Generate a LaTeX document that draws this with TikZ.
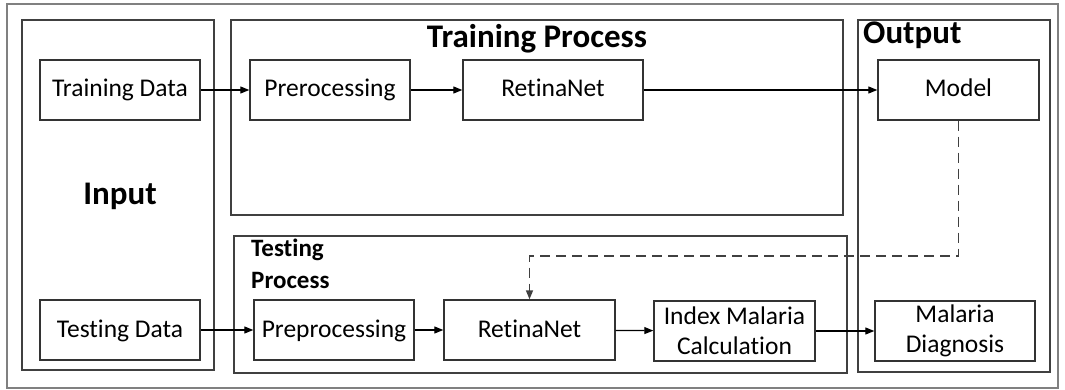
\documentclass[tikz,border=0pt]{standalone}
\usepackage{fontspec}
\setmainfont{Carlito}[Ligatures={NoCommon,NoContextual}]
\usetikzlibrary{arrows.meta}
\begin{document}
\begin{tikzpicture}[x=1pt,y=-1pt,
  box/.style={draw=black!80, line width=1.4pt, minimum width=160pt, minimum height=60pt,
    inner sep=0pt, align=center, font=\fontsize{25.5}{30}\selectfont},
  oneline/.style={text height=18pt, text depth=4pt},
  group/.style={draw=black!75, line width=1.3pt},
  heading/.style={font=\bfseries\fontsize{33}{38}\selectfont, inner sep=0pt},
  subheading/.style={font=\bfseries\fontsize{25}{32}\selectfont, inner sep=0pt, align=left},
  arr/.style={-{Triangle[length=9pt,width=7pt]}, line width=1.2pt},
  dasharr/.style={arr, draw=black!75, line width=1.6pt, dash pattern=on 10pt off 6pt}]
\useasboundingbox (0,0) rectangle (1065,390);

% outer frame and group frames
\draw[draw=black!50, line width=2pt] (7,4) rectangle (1058,388);
\draw[group] (22,20) rectangle (214,370);
\draw[group] (231,20) rectangle (843,215);
\draw[group] (234,236) rectangle (847,373);
\draw[group] (858,20) rectangle (1050,372);

% group headings
\node[heading] (hin) at (120,196) {Input};
\node[heading] (htrain) at (537,39) {Training Process};
\node[heading, anchor=west] (hout) at (863,35) {Output};
\node[subheading, anchor=north west] (htest) at (251,239) {Testing\\Process};

% training row
\node[box, oneline] (td) at (120,90) {Training Data};
\node[box, oneline] (pre1) at (330,90) {Prerocessing};
\node[box, oneline, minimum width=180pt] (rt1) at (553,90) {RetinaNet};
\node[box, oneline, minimum width=161pt] (model) at (958.5,90) {Model};

% testing row
\node[box, oneline] (tsd) at (120,330) {Testing Data};
\node[box, oneline] (pre2) at (334,330) {Preprocessing};
\node[box, oneline, minimum width=171pt] (rt2) at (529.5,330) {RetinaNet};
\node[box, minimum width=161pt] (idx) at (734.5,331) {Index Malaria\\Calculation};
\node[box] (diag) at (955,331) {Malaria\\Diagnosis};

% connectors
\draw[arr] (td) -- (pre1);
\draw[arr] (pre1) -- (rt1);
\draw[arr] (rt1) -- (model);
\draw[arr] (tsd) -- (pre2);
\draw[arr] (pre2) -- (rt2);
\draw[arr] (rt2) -- (idx);
\draw[arr] (idx) -- (diag);
\draw[dasharr] (model.south) -- ++(0,135) -| (rt2.north);
\end{tikzpicture}
\end{document}
